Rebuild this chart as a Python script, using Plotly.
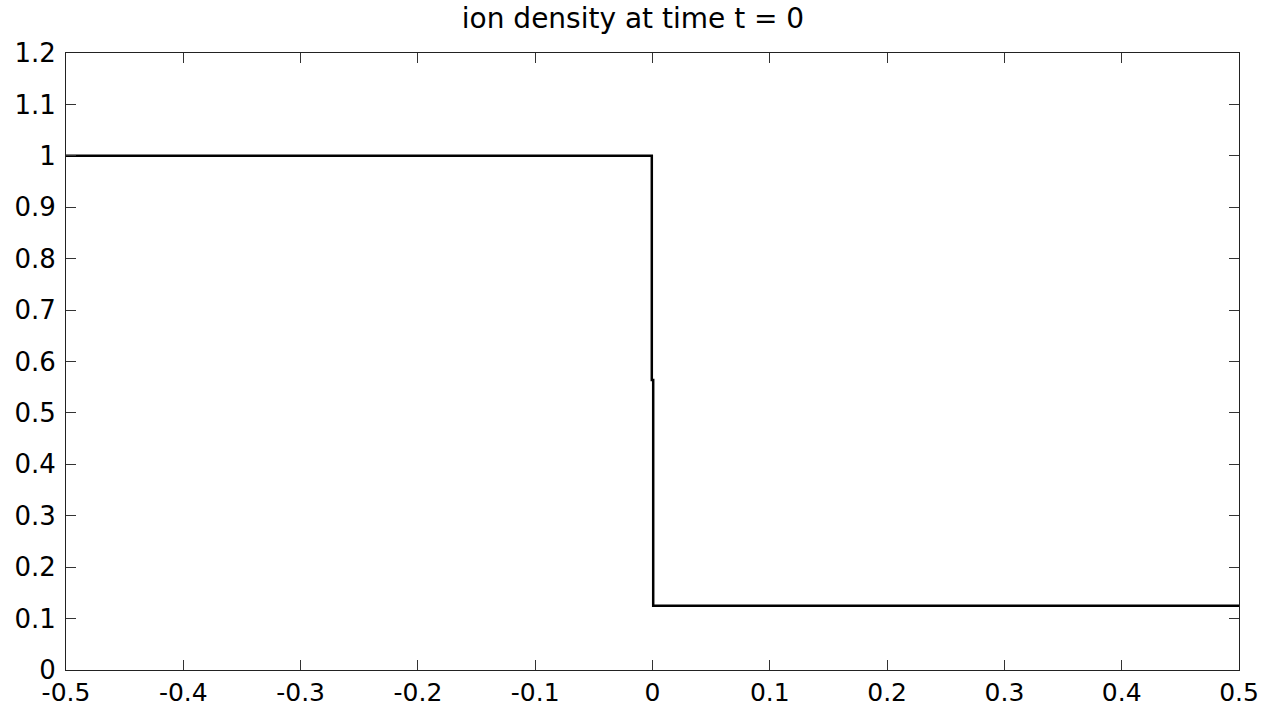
import plotly.graph_objects as go

# Data: step profile of ion density at t = 0
x_vals = [-0.5, -0.0006, -0.0006, 0.0006, 0.0006, 0.5]
y_vals = [1.0, 1.0, 0.564, 0.564, 0.125, 0.125]

x_ticks = [-0.5, -0.4, -0.3, -0.2, -0.1, 0, 0.1, 0.2, 0.3, 0.4, 0.5]
x_tick_labels = ["-0.5", "-0.4", "-0.3", "-0.2", "-0.1", "0", "0.1", "0.2", "0.3", "0.4", "0.5"]
y_ticks = [0, 0.1, 0.2, 0.3, 0.4, 0.5, 0.6, 0.7, 0.8, 0.9, 1.0, 1.1, 1.2]
y_tick_labels = ["0", "0.1", "0.2", "0.3", "0.4", "0.5", "0.6", "0.7", "0.8", "0.9", "1", "1.1", "1.2"]

FONT = "DejaVu Sans, Liberation Sans, Arial, sans-serif"

fig = go.Figure()
fig.add_trace(go.Scatter(x=x_vals, y=y_vals, mode="lines",
                         line=dict(color="black", width=2.5), showlegend=False))

axis_common = dict(showgrid=False, zeroline=False, showline=True, linecolor="#222222",
                   linewidth=1, mirror="ticks", ticks="inside", ticklen=10,
                   tickcolor="#333333", tickwidth=1, automargin=False)

fig.update_xaxes(range=[-0.5, 0.5], tickvals=x_ticks, ticktext=x_tick_labels,
                 ticklabelstandoff=0,
                 tickfont=dict(family=FONT, size=25, color="black"), **axis_common)
fig.update_yaxes(range=[0, 1.2], tickvals=y_ticks, ticktext=y_tick_labels,
                 ticklabelstandoff=4,
                 tickfont=dict(family=FONT, size=26, color="black"), **axis_common)

fig.update_layout(
    width=1266, height=707,
    margin=dict(l=66, r=27, t=53, b=37),
    paper_bgcolor="white", plot_bgcolor="white",
    title=dict(text="ion density at time t = 0", x=0.5, xanchor="center",
               y=1 - 18 / 707, yanchor="middle",
               font=dict(family=FONT, size=28, color="black")),
)

fig.write_html("out.html")
